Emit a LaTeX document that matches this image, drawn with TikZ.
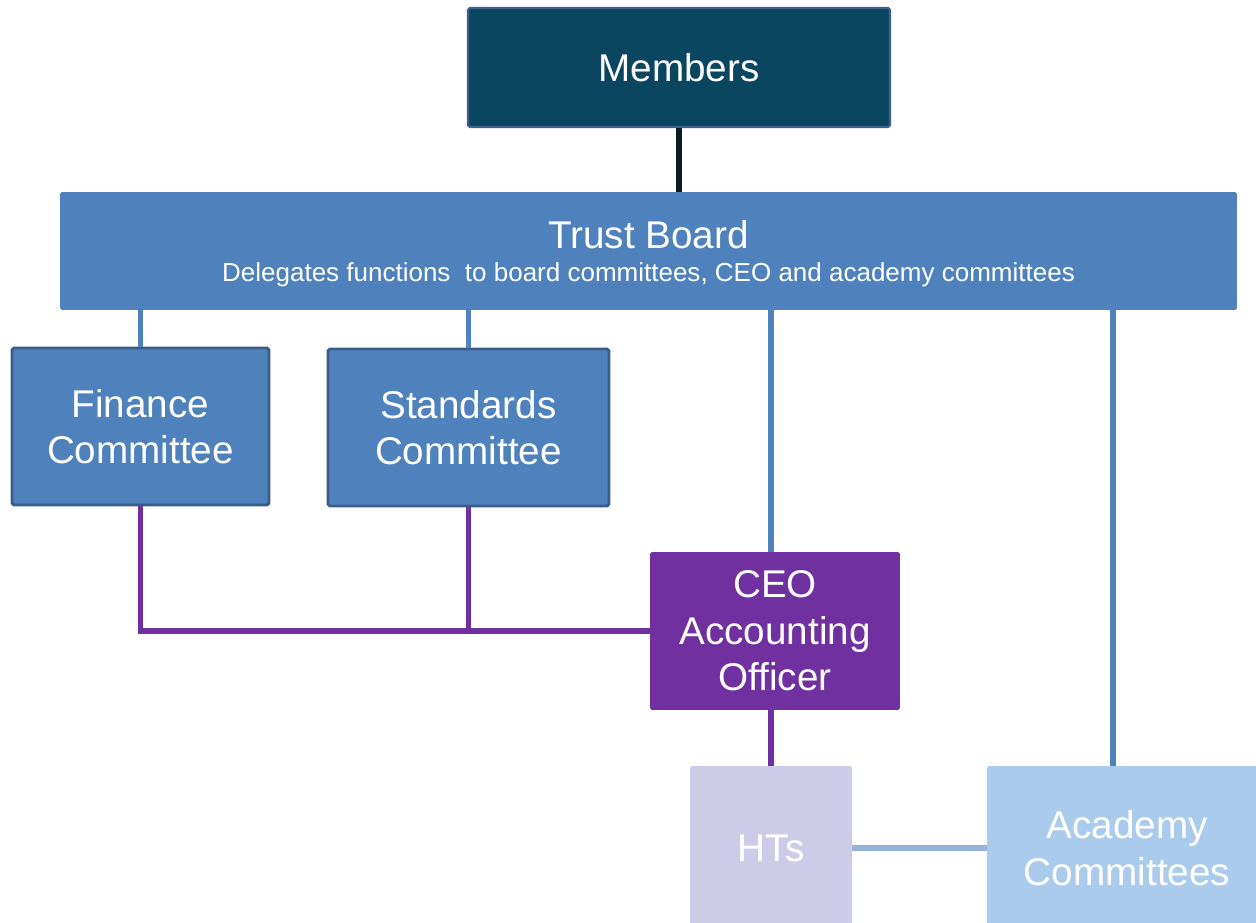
\documentclass[tikz,border=0pt]{standalone}
\usepackage{fontspec}
\setmainfont{Liberation Sans}
\usetikzlibrary{positioning}

\definecolor{memfill}{HTML}{0B4661}
\definecolor{memline}{HTML}{3C5F8D}
\definecolor{board}{HTML}{4F81BD}
\definecolor{boardline}{HTML}{385D8A}
\definecolor{ceofill}{HTML}{7030A0}
\definecolor{htfill}{HTML}{CCCCE8}
\definecolor{acfill}{HTML}{ABCBED}
\definecolor{acline}{HTML}{95B3D7}
\definecolor{topline}{HTML}{0C1C26}

\tikzset{
	box/.style={rectangle, rounded corners=1pt, inner sep=0pt, align=center, text=white,
		font=\fontsize{22}{26.5}\selectfont},
	link/.style={line width=3.4pt},
}

\begin{document}
\begin{tikzpicture}[x=0.02cm, y=-0.02cm]
	\useasboundingbox (0,0) rectangle (1256,922);
	
	\node[box, fill=memfill, draw=memline, line width=1.2pt, minimum width=8.44cm, minimum height=2.38cm] (mem) at (679,67.5) {Members};
	\node[box, fill=board, minimum width=23.54cm, minimum height=2.36cm, text depth=0pt] (tb) at (648.5,251) {Trust Board\\[-7.5pt]{\fontsize{14.8}{16}\selectfont Delegates functions\ \ to board committees, CEO and academy committees}};
	
	\node[box, fill=board, draw=boardline, line width=1.6pt, minimum width=5.14cm, minimum height=3.14cm] (fc) at (140.5,426.5) {Finance\\Committee};
	\node[box, fill=board, draw=boardline, line width=1.6pt, minimum width=5.62cm, minimum height=3.14cm] (sc) at (468.5,427.5) {Standards\\Committee};
	
	\node[box, fill=ceofill, minimum width=5.0cm, minimum height=3.16cm] (ceo) at (775,631) {CEO\\Accounting\\Officer};
	
	\node[box, fill=htfill, minimum width=3.24cm, minimum height=3.28cm] (ht) at (771,848) {HTs};
	\node[box, fill=acfill, minimum width=5.6cm, minimum height=3.28cm] (ac) at (1127,848) {Academy\\Committees};
	\coordinate (acin) at (1113,766);
	
	% board lines
	\draw[link, topline] (mem.south) -- (tb.north -| mem.south);
	\draw[link, board] (tb.south -| fc.north) -- (fc.north);
	\draw[link, board] (tb.south -| sc.north) -- (sc.north);
	\draw[link, board] (tb.south -| ht.north) -- (ceo.north -| ht.north);
	\draw[link, board] (tb.south -| acin) -- (acin);
	
	% ceo lines
	\draw[link, ceofill] (fc.south) -- (fc.south |- ceo.west) -- (ceo.west);
	\draw[link, ceofill] (sc.south) -- (sc.south |- ceo.west);
	\draw[link, ceofill] (ceo.south -| ht.north) -- (ht.north);
	\draw[link, acline] (ht.east) -- (ac.west);
\end{tikzpicture}
\end{document}
